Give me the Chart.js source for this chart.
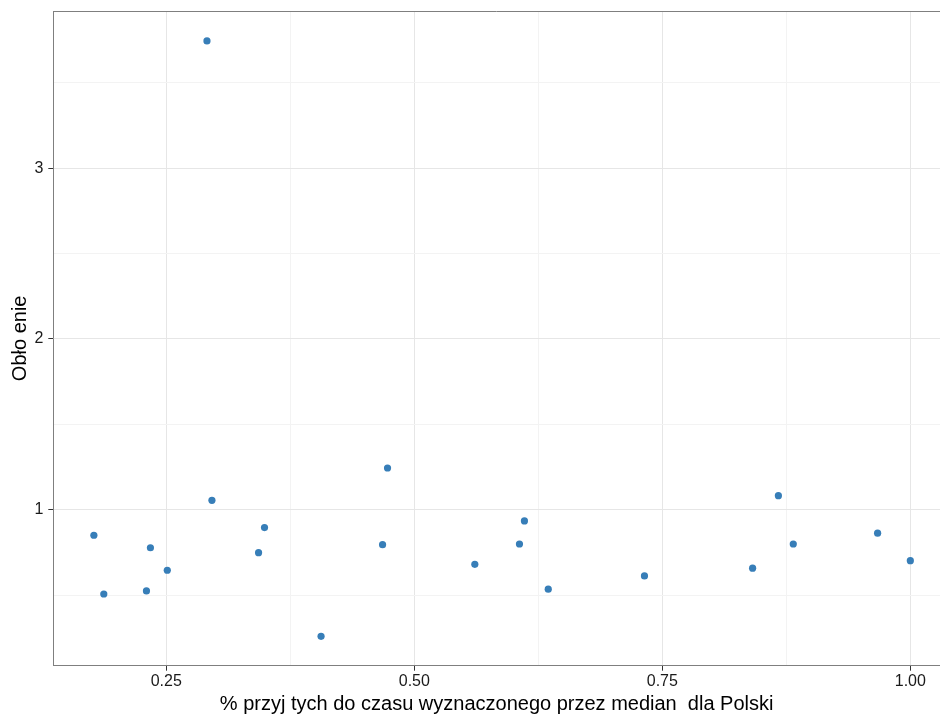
<!DOCTYPE html>
<html>
<head>
<meta charset="utf-8">
<script src="https://cdn.jsdelivr.net/npm/chart.js@4.4.1/dist/chart.umd.min.js"></script>
<style>
  html, body { margin: 0; padding: 0; background: #fff; overflow: hidden; }
  #wrap { width: 940px; height: 717px; }
</style>
</head>
<body>
<div id="wrap"><canvas id="scatterChart" width="940" height="717"></canvas></div>
<script>
// Dane
const xValues = [0.177, 0.187, 0.230, 0.234, 0.251, 0.291, 0.296, 0.343, 0.349, 0.406, 0.468,
                 0.473, 0.561, 0.606, 0.611, 0.635, 0.732, 0.841, 0.867, 0.882, 0.967, 1.000];
const yValues = [0.850, 0.506, 0.524, 0.777, 0.645, 3.746, 1.055, 0.748, 0.895, 0.258, 0.795,
                 1.244, 0.680, 0.799, 0.934, 0.534, 0.612, 0.657, 1.082, 0.799, 0.862, 0.701];

const xMajorTicks = [0.25, 0.50, 0.75, 1.00];
const xMinorTicks = [0.375, 0.625, 0.875];
const yMajorTicks = [1, 2, 3];
const yMinorTicks = [0.5, 1.5, 2.5, 3.5];

const xTitle = '% przyj tych do czasu wyznaczonego przez median  dla Polski';
const yTitle = 'Obło enie';

const points = xValues.map((x, i) => ({ x: x, y: yValues[i] }));

function allTicks(major, minor) {
    return major.concat(minor).sort((a, b) => a - b).map(v => ({ value: v }));
}

// Górna ramka panelu (prawa jest poza kadrem)
const topBorder = {
    id: 'topBorder',
    afterDraw(chart) {
        const a = chart.chartArea;
        const ctx = chart.ctx;
        ctx.save();
        ctx.strokeStyle = '#7f7f7f';
        ctx.lineWidth = 1;
        ctx.beginPath();
        ctx.moveTo(a.left, a.top + 0.5);
        ctx.lineTo(a.right, a.top + 0.5);
        ctx.stroke();
        ctx.restore();
    }
};

const ctx = document.getElementById('scatterChart').getContext('2d');
const scatterChart = new Chart(ctx, {
    type: 'scatter',
    data: {
        datasets: [{
            data: points,
            backgroundColor: '#377EB8',
            borderWidth: 0,
            pointRadius: 3.6,
            pointHoverRadius: 3.6
        }]
    },
    options: {
        responsive: false,
        animation: false,
        layout: { autoPadding: false, padding: { top: 11, right: 0, left: 0, bottom: 0 } },
        plugins: {
            legend: { display: false },
            tooltip: { enabled: false }
        },
        scales: {
            x: {
                type: 'linear',
                min: 0.1361,
                max: 1.0299,
                afterBuildTicks: s => { s.ticks = allTicks(xMajorTicks, xMinorTicks); },
                afterFit: s => { s.height = 51.3; s.paddingLeft = 0; s.paddingRight = 0; },
                ticks: {
                    autoSkip: false,
                    maxRotation: 0,
                    padding: 1,
                    color: '#1a1a1a',
                    font: { family: 'Liberation Sans, Arial', size: 16 },
                    callback: v => xMajorTicks.includes(v) ? v.toFixed(2) : ''
                },
                grid: {
                    color: c => (c.tick && xMajorTicks.includes(c.tick.value)) ? '#e6e6e6' : '#f3f3f3',
                    tickColor: c => (c.tick && xMajorTicks.includes(c.tick.value)) ? '#333333' : 'rgba(0,0,0,0)',
                    tickLength: 5
                },
                border: { color: '#7f7f7f', width: 1 },
                title: {
                    display: true,
                    text: xTitle,
                    color: '#000',
                    font: { family: 'Liberation Sans, Arial', size: 20 },
                    padding: { top: 0, bottom: 1 }
                }
            },
            y: {
                type: 'linear',
                min: 0.086,
                max: 3.921,
                afterBuildTicks: s => { s.ticks = allTicks(yMajorTicks, yMinorTicks); },
                afterFit: s => { s.width = 53.3; s.paddingTop = 0; s.paddingBottom = 0; },
                ticks: {
                    autoSkip: false,
                    padding: 5,
                    color: '#1a1a1a',
                    font: { family: 'Liberation Sans, Arial', size: 16 },
                    callback: v => yMajorTicks.includes(v) ? String(v) : ''
                },
                grid: {
                    color: c => (c.tick && yMajorTicks.includes(c.tick.value)) ? '#e6e6e6' : '#f3f3f3',
                    tickColor: c => (c.tick && yMajorTicks.includes(c.tick.value)) ? '#333333' : 'rgba(0,0,0,0)',
                    tickLength: 5
                },
                border: { color: '#7f7f7f', width: 1 },
                title: {
                    display: true,
                    text: yTitle,
                    color: '#000',
                    font: { family: 'Liberation Sans, Arial', size: 20 },
                    padding: { top: 8, bottom: 0 }
                }
            }
        }
    },
    plugins: [topBorder]
});
</script>
</body>
</html>
